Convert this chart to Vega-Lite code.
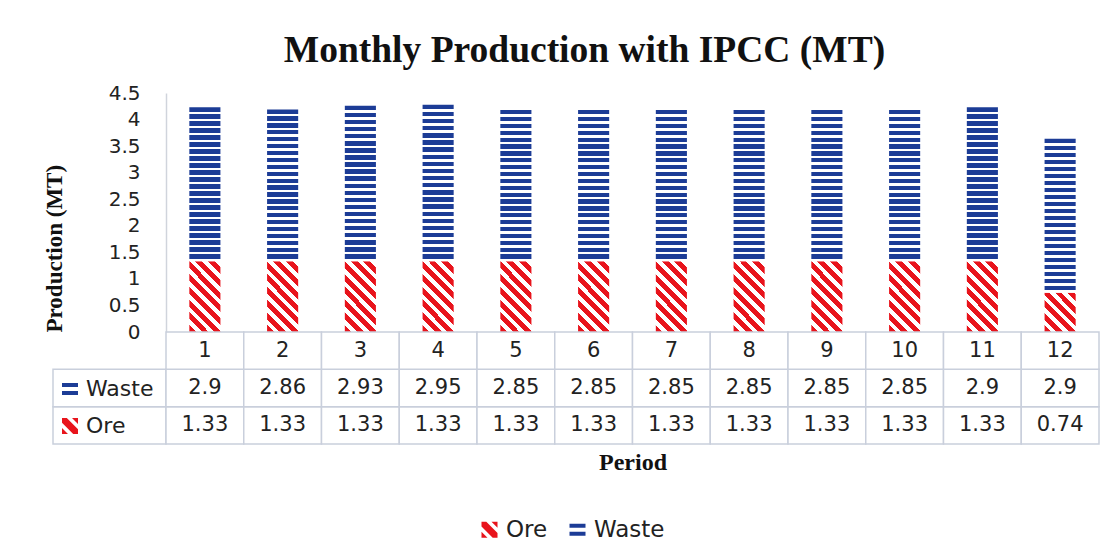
{
  "$schema": "https://vega.github.io/schema/vega-lite/v6.json",
  "padding": {"left": 43, "top": 31, "right": 5, "bottom": 5},
  "background": "white",
  "datasets": {
    "prod": [
      {"period": 1, "series": "Ore", "value": 1.33}, {"period": 1, "series": "Waste", "value": 2.9},
      {"period": 2, "series": "Ore", "value": 1.33}, {"period": 2, "series": "Waste", "value": 2.86},
      {"period": 3, "series": "Ore", "value": 1.33}, {"period": 3, "series": "Waste", "value": 2.93},
      {"period": 4, "series": "Ore", "value": 1.33}, {"period": 4, "series": "Waste", "value": 2.95},
      {"period": 5, "series": "Ore", "value": 1.33}, {"period": 5, "series": "Waste", "value": 2.85},
      {"period": 6, "series": "Ore", "value": 1.33}, {"period": 6, "series": "Waste", "value": 2.85},
      {"period": 7, "series": "Ore", "value": 1.33}, {"period": 7, "series": "Waste", "value": 2.85},
      {"period": 8, "series": "Ore", "value": 1.33}, {"period": 8, "series": "Waste", "value": 2.85},
      {"period": 9, "series": "Ore", "value": 1.33}, {"period": 9, "series": "Waste", "value": 2.85},
      {"period": 10, "series": "Ore", "value": 1.33}, {"period": 10, "series": "Waste", "value": 2.85},
      {"period": 11, "series": "Ore", "value": 1.33}, {"period": 11, "series": "Waste", "value": 2.9},
      {"period": 12, "series": "Ore", "value": 0.74}, {"period": 12, "series": "Waste", "value": 2.9}
    ]
  },
  "title": {
    "text": "Monthly Production with IPCC (MT)",
    "font": "Liberation Serif", "fontSize": 37.5, "fontWeight": "bold", "color": "#111",
    "anchor": "middle", "offset": 14, "dx": 13
  },
  "columns": 2,
  "spacing": 0,
  "bounds": "flush",
  "resolve": {
    "scale": {"color": "independent", "shape": "independent", "x": "independent", "y": "independent"},
    "legend": {"color": "independent", "shape": "independent"}
  },
  "config": {"view": {"stroke": null}, "font": "DejaVu Sans"},
  "concat": [
    {
      "width": 113, "height": 239,
      "data": {"values": [{}]},
      "mark": {"type": "point", "opacity": 0}
    },
    {
      "width": 933, "height": 239,
      "data": {"name": "prod"},
      "transform": [
        {"stack": "value", "groupby": ["period"], "sort": [{"field": "series", "order": "ascending"}], "as": ["y0", "y1"]}
      ],
      "encoding": {
        "x": {"field": "period", "type": "ordinal", "scale": {"paddingInner": 0.6, "paddingOuter": 0.3}, "axis": null},
        "y": {
          "field": "y1", "type": "quantitative",
          "scale": {"domain": [0, 4.5], "nice": false},
          "axis": {
            "title": "Production (MT)", "titleFont": "Liberation Serif", "titleFontSize": 23, "titleFontWeight": "bold", "titleColor": "#111", "titlePadding": 42, "titleAnchor": "start",
            "values": [0, 0.5, 1, 1.5, 2, 2.5, 3, 3.5, 4, 4.5], "labelExpr": "'' + datum.value",
            "labelFont": "DejaVu Sans", "labelFontSize": 20, "labelColor": "#222", "labelPadding": 26,
            "ticks": false, "grid": false, "domain": true, "domainColor": "#d0d4dc", "domainWidth": 1.5
          }
        }
      },
      "layer": [
        {
          "transform": [{"filter": "datum.series === 'Ore' && datum.period !== 12"}],
          "mark": {
            "type": "bar",
            "fill": {
              "gradient": "linear", "x1": 0, "y1": 1, "x2": 0.534, "y2": -0.207,
              "stops": [
                {"offset": 0, "color": "#e8141c"}, {"offset": 0.0688, "color": "#e8141c"}, {"offset": 0.0688, "color": "#ffffff"}, {"offset": 0.125, "color": "#ffffff"},
                {"offset": 0.125, "color": "#e8141c"}, {"offset": 0.1938, "color": "#e8141c"}, {"offset": 0.1938, "color": "#ffffff"}, {"offset": 0.25, "color": "#ffffff"},
                {"offset": 0.25, "color": "#e8141c"}, {"offset": 0.3188, "color": "#e8141c"}, {"offset": 0.3188, "color": "#ffffff"}, {"offset": 0.375, "color": "#ffffff"},
                {"offset": 0.375, "color": "#e8141c"}, {"offset": 0.4438, "color": "#e8141c"}, {"offset": 0.4438, "color": "#ffffff"}, {"offset": 0.5, "color": "#ffffff"},
                {"offset": 0.5, "color": "#e8141c"}, {"offset": 0.5688, "color": "#e8141c"}, {"offset": 0.5688, "color": "#ffffff"}, {"offset": 0.625, "color": "#ffffff"},
                {"offset": 0.625, "color": "#e8141c"}, {"offset": 0.6938, "color": "#e8141c"}, {"offset": 0.6938, "color": "#ffffff"}, {"offset": 0.75, "color": "#ffffff"},
                {"offset": 0.75, "color": "#e8141c"}, {"offset": 0.8188, "color": "#e8141c"}, {"offset": 0.8188, "color": "#ffffff"}, {"offset": 0.875, "color": "#ffffff"},
                {"offset": 0.875, "color": "#e8141c"}, {"offset": 0.9438, "color": "#e8141c"}, {"offset": 0.9438, "color": "#ffffff"}, {"offset": 1, "color": "#ffffff"}
              ]
            }
          },
          "encoding": {"y2": {"field": "y0"}}
        },
        {
          "transform": [{"filter": "datum.series === 'Ore' && datum.period === 12"}],
          "mark": {
            "type": "bar",
            "fill": {
              "gradient": "linear", "x1": 0, "y1": 1, "x2": 0.874, "y2": -0.1,
              "stops": [
                {"offset": 0, "color": "#e8141c"}, {"offset": 0.0965, "color": "#e8141c"}, {"offset": 0.0965, "color": "#ffffff"}, {"offset": 0.1754, "color": "#ffffff"},
                {"offset": 0.1754, "color": "#e8141c"}, {"offset": 0.2719, "color": "#e8141c"}, {"offset": 0.2719, "color": "#ffffff"}, {"offset": 0.3509, "color": "#ffffff"},
                {"offset": 0.3509, "color": "#e8141c"}, {"offset": 0.4474, "color": "#e8141c"}, {"offset": 0.4474, "color": "#ffffff"}, {"offset": 0.5263, "color": "#ffffff"},
                {"offset": 0.5263, "color": "#e8141c"}, {"offset": 0.6228, "color": "#e8141c"}, {"offset": 0.6228, "color": "#ffffff"}, {"offset": 0.7018, "color": "#ffffff"},
                {"offset": 0.7018, "color": "#e8141c"}, {"offset": 0.7983, "color": "#e8141c"}, {"offset": 0.7983, "color": "#ffffff"}, {"offset": 0.8772, "color": "#ffffff"},
                {"offset": 0.8772, "color": "#e8141c"}, {"offset": 0.9737, "color": "#e8141c"}, {"offset": 0.9737, "color": "#ffffff"}, {"offset": 1, "color": "#ffffff"}
              ]
            }
          },
          "encoding": {"y2": {"field": "y0"}}
        },
        {
          "transform": [{"filter": "datum.series === 'Waste'"}],
          "mark": {
            "type": "bar",
            "fill": {
              "gradient": "linear", "x1": 0, "y1": 0, "x2": 0, "y2": 1,
              "stops": [
                {"offset": 0, "color": "#1c3c96"}, {"offset": 0.0282, "color": "#1c3c96"}, {"offset": 0.0282, "color": "#ffffff"}, {"offset": 0.0455, "color": "#ffffff"},
                {"offset": 0.0455, "color": "#1c3c96"}, {"offset": 0.0736, "color": "#1c3c96"}, {"offset": 0.0736, "color": "#ffffff"}, {"offset": 0.0909, "color": "#ffffff"},
                {"offset": 0.0909, "color": "#1c3c96"}, {"offset": 0.1191, "color": "#1c3c96"}, {"offset": 0.1191, "color": "#ffffff"}, {"offset": 0.1364, "color": "#ffffff"},
                {"offset": 0.1364, "color": "#1c3c96"}, {"offset": 0.1645, "color": "#1c3c96"}, {"offset": 0.1645, "color": "#ffffff"}, {"offset": 0.1818, "color": "#ffffff"},
                {"offset": 0.1818, "color": "#1c3c96"}, {"offset": 0.2100, "color": "#1c3c96"}, {"offset": 0.2100, "color": "#ffffff"}, {"offset": 0.2273, "color": "#ffffff"},
                {"offset": 0.2273, "color": "#1c3c96"}, {"offset": 0.2555, "color": "#1c3c96"}, {"offset": 0.2555, "color": "#ffffff"}, {"offset": 0.2727, "color": "#ffffff"},
                {"offset": 0.2727, "color": "#1c3c96"}, {"offset": 0.3009, "color": "#1c3c96"}, {"offset": 0.3009, "color": "#ffffff"}, {"offset": 0.3182, "color": "#ffffff"},
                {"offset": 0.3182, "color": "#1c3c96"}, {"offset": 0.3464, "color": "#1c3c96"}, {"offset": 0.3464, "color": "#ffffff"}, {"offset": 0.3636, "color": "#ffffff"},
                {"offset": 0.3636, "color": "#1c3c96"}, {"offset": 0.3918, "color": "#1c3c96"}, {"offset": 0.3918, "color": "#ffffff"}, {"offset": 0.4091, "color": "#ffffff"},
                {"offset": 0.4091, "color": "#1c3c96"}, {"offset": 0.4373, "color": "#1c3c96"}, {"offset": 0.4373, "color": "#ffffff"}, {"offset": 0.4545, "color": "#ffffff"},
                {"offset": 0.4545, "color": "#1c3c96"}, {"offset": 0.4827, "color": "#1c3c96"}, {"offset": 0.4827, "color": "#ffffff"}, {"offset": 0.5, "color": "#ffffff"},
                {"offset": 0.5, "color": "#1c3c96"}, {"offset": 0.5282, "color": "#1c3c96"}, {"offset": 0.5282, "color": "#ffffff"}, {"offset": 0.5455, "color": "#ffffff"},
                {"offset": 0.5455, "color": "#1c3c96"}, {"offset": 0.5736, "color": "#1c3c96"}, {"offset": 0.5736, "color": "#ffffff"}, {"offset": 0.5909, "color": "#ffffff"},
                {"offset": 0.5909, "color": "#1c3c96"}, {"offset": 0.6191, "color": "#1c3c96"}, {"offset": 0.6191, "color": "#ffffff"}, {"offset": 0.6364, "color": "#ffffff"},
                {"offset": 0.6364, "color": "#1c3c96"}, {"offset": 0.6645, "color": "#1c3c96"}, {"offset": 0.6645, "color": "#ffffff"}, {"offset": 0.6818, "color": "#ffffff"},
                {"offset": 0.6818, "color": "#1c3c96"}, {"offset": 0.7100, "color": "#1c3c96"}, {"offset": 0.7100, "color": "#ffffff"}, {"offset": 0.7273, "color": "#ffffff"},
                {"offset": 0.7273, "color": "#1c3c96"}, {"offset": 0.7555, "color": "#1c3c96"}, {"offset": 0.7555, "color": "#ffffff"}, {"offset": 0.7727, "color": "#ffffff"},
                {"offset": 0.7727, "color": "#1c3c96"}, {"offset": 0.8009, "color": "#1c3c96"}, {"offset": 0.8009, "color": "#ffffff"}, {"offset": 0.8182, "color": "#ffffff"},
                {"offset": 0.8182, "color": "#1c3c96"}, {"offset": 0.8464, "color": "#1c3c96"}, {"offset": 0.8464, "color": "#ffffff"}, {"offset": 0.8636, "color": "#ffffff"},
                {"offset": 0.8636, "color": "#1c3c96"}, {"offset": 0.8918, "color": "#1c3c96"}, {"offset": 0.8918, "color": "#ffffff"}, {"offset": 0.9091, "color": "#ffffff"},
                {"offset": 0.9091, "color": "#1c3c96"}, {"offset": 0.9373, "color": "#1c3c96"}, {"offset": 0.9373, "color": "#ffffff"}, {"offset": 0.9545, "color": "#ffffff"},
                {"offset": 0.9545, "color": "#1c3c96"}, {"offset": 0.9827, "color": "#1c3c96"}, {"offset": 0.9827, "color": "#ffffff"}, {"offset": 1, "color": "#ffffff"}
              ]
            }
          },
          "encoding": {"y2": {"field": "y0"}}
        },
        {
          "mark": {"type": "point", "filled": true, "opacity": 0},
          "encoding": {
            "color": {
              "field": "series", "type": "nominal",
              "scale": {"domain": ["Ore", "Waste"], "range": ["#e8141c", "#1c3c96"]},
              "legend": {"title": null, "orient": "none", "legendX": 312, "legendY": 425, "direction": "horizontal",
                "labelFont": "DejaVu Sans", "labelFontSize": 23, "labelColor": "#222", "symbolSize": 256, "symbolOpacity": 1,
                "symbolStrokeWidth": 0, "columnPadding": 18, "labelOffset": 5}
            },
            "shape": {
              "field": "series", "type": "nominal",
              "scale": {"domain": ["Ore", "Waste"], "range": [
                "M-1,-1L-0.4,-1L1,0.4L1,1L0.4,1L-1,-0.4Z M0.25,-1L1,-1L1,-0.25Z M-1,0.25L-1,1L-0.25,1Z",
                "M-1,-0.75H1V-0.25H-1Z M-1,0.25H1V0.75H-1Z"]},
              "legend": {"title": null, "orient": "none", "legendX": 312, "legendY": 425, "direction": "horizontal",
                "labelFont": "DejaVu Sans", "labelFontSize": 23, "labelColor": "#222", "symbolSize": 256, "symbolOpacity": 1,
                "symbolStrokeWidth": 0, "columnPadding": 18, "labelOffset": 5}
            }
          }
        }
      ]
    },
    {
      "width": 113, "height": 112,
      "data": {"name": "prod"},
      "transform": [{"filter": "datum.period === 1"}],
      "encoding": {
        "y": {"field": "series", "type": "nominal", "scale": {"domain": ["Period", "Waste", "Ore"], "paddingInner": 0, "paddingOuter": 0}, "axis": null}
      },
      "layer": [
        {"mark": {"type": "rect", "fill": "#ffffff", "stroke": "#c9cfdc", "strokeWidth": 1.5}},
        {
          "mark": {"type": "point", "filled": true, "opacity": 0},
          "encoding": {
            "color": {
              "field": "series", "type": "nominal",
              "scale": {"domain": ["Waste", "Ore"], "range": ["#1c3c96", "#e8141c"]},
              "legend": {"title": null, "orient": "none", "legendX": 6, "legendY": 46, "direction": "vertical",
                "labelFont": "DejaVu Sans", "labelFontSize": 22, "labelColor": "#222", "symbolSize": 256, "symbolOpacity": 1,
                "symbolStrokeWidth": 0, "rowPadding": 15, "labelOffset": 5}
            },
            "shape": {
              "field": "series", "type": "nominal",
              "scale": {"domain": ["Waste", "Ore"], "range": [
                "M-1,-0.75H1V-0.25H-1Z M-1,0.25H1V0.75H-1Z",
                "M-1,-1L-0.4,-1L1,0.4L1,1L0.4,1L-1,-0.4Z M0.25,-1L1,-1L1,-0.25Z M-1,0.25L-1,1L-0.25,1Z"]},
              "legend": {"title": null, "orient": "none", "legendX": 6, "legendY": 46, "direction": "vertical",
                "labelFont": "DejaVu Sans", "labelFontSize": 22, "labelColor": "#222", "symbolSize": 256, "symbolOpacity": 1,
                "symbolStrokeWidth": 0, "rowPadding": 15, "labelOffset": 5}
            }
          }
        }
      ]
    },
    {
      "width": 933, "height": 112,
      "data": {"name": "prod"},
      "encoding": {
        "x": {"field": "period", "type": "ordinal", "scale": {"paddingInner": 0, "paddingOuter": 0},
          "axis": {"title": "Period", "labels": false, "ticks": false, "domain": false,
            "titleFont": "Liberation Serif", "titleFontSize": 24, "titleFontWeight": "bold", "titleColor": "#111", "titlePadding": 6}}
      },
      "layer": [
        {
          "mark": {"type": "rect", "fill": "#ffffff", "stroke": "#c9cfdc", "strokeWidth": 1.5},
          "encoding": {"y": {"field": "series", "type": "nominal", "scale": {"domain": ["Period", "Waste", "Ore"], "paddingInner": 0, "paddingOuter": 0}, "axis": null}}
        },
        {
          "mark": {"type": "text", "font": "DejaVu Sans", "fontSize": 21, "color": "#222"},
          "encoding": {
            "y": {"field": "series", "type": "nominal"},
            "text": {"field": "value", "type": "quantitative"}
          }
        },
        {
          "transform": [{"filter": "datum.series === 'Ore'"}],
          "mark": {"type": "rect", "fill": "#ffffff", "stroke": "#c9cfdc", "strokeWidth": 1.5},
          "encoding": {"y": {"datum": "Period", "type": "nominal"}}
        },
        {
          "transform": [{"filter": "datum.series === 'Ore'"}],
          "mark": {"type": "text", "font": "DejaVu Sans", "fontSize": 21, "color": "#222"},
          "encoding": {
            "y": {"datum": "Period", "type": "nominal"},
            "text": {"field": "period", "type": "ordinal"}
          }
        }
      ]
    }
  ]
}
